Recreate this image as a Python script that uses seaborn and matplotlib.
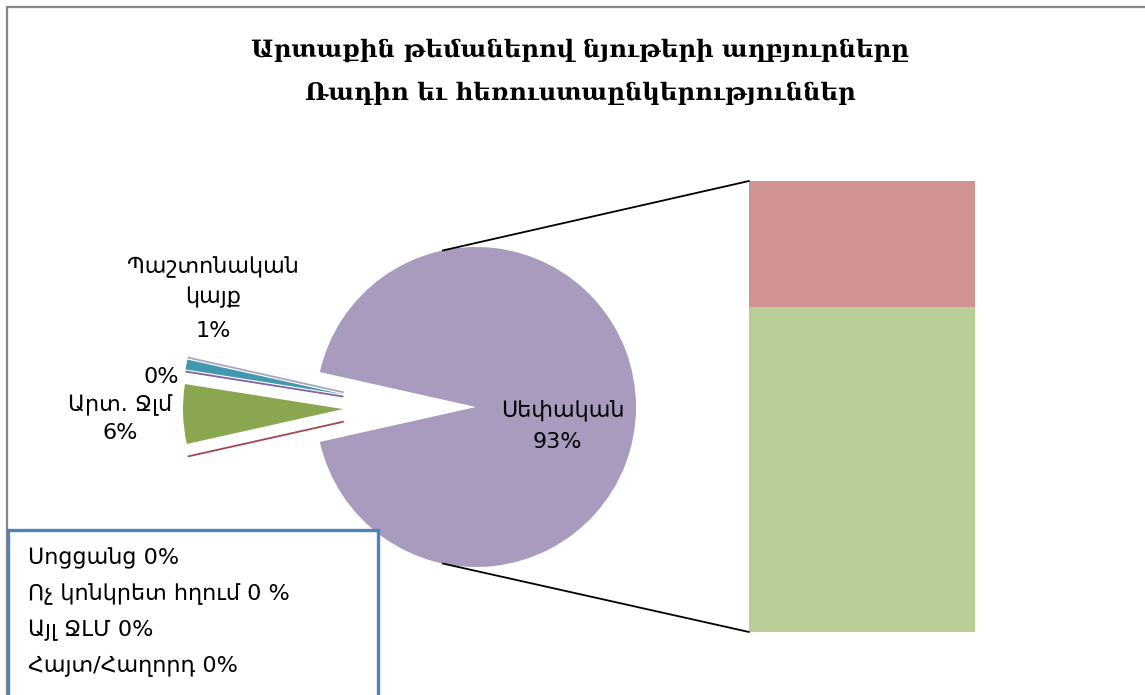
import matplotlib
matplotlib.use("Agg")
import matplotlib.pyplot as plt
from matplotlib.patches import Rectangle, ConnectionPatch
import numpy as np
import seaborn as sns

# --- data ---
title_lines = [
    "Արտաքին թեմաներով նյութերի աղբյուրները",
    "Ռադիո եւ հեռուստաընկերություններ",
]

# pie slices, counterclockwise starting at the lower edge of the gap
pie_names = ["Սեփական", "", "Պաշտոնական\nկայք", "", "Արտ. Ջլմ", ""]
pie_values = [93, 0, 1, 0, 6, 0]
pie_colors = ["#A99BBE", "#A7A5C2", "#4198AF", "#7E62A1", "#8AA64E", "#A3474E"]

# the big slice split into the bar (bottom to top)
bar_names = ["Սեփ.նյութ", "0 հղում"]
bar_values = [67, 26]
bar_colors = ["#B9CD96", "#D09392"]

box_labels = ["Սոցցանց 0%", "Ոչ կոնկրետ հղում 0 %", "Այլ ՋԼՄ 0%", "Հայտ/Հաղորդ 0%"]

W, H = 1145, 695

sns.set_theme(style="white")
plt.rcParams["font.family"] = ["DejaVu Sans"]
plt.rcParams["text.color"] = "black"

fig = plt.figure(figsize=(W / 100, H / 100), dpi=100)
ax = fig.add_axes([0, 0, 1, 1])

# --- pie ---
cx, cy, r = 476, H - 407, 160
gap = sum(pie_values[1:]) / sum(pie_values) * 360
start = 180 + gap / 2
wedges, _ = ax.pie(
    pie_values, colors=pie_colors, startangle=start, counterclock=True,
    center=(cx, cy), radius=r, wedgeprops=dict(linewidth=0),
)
# pull the small slices out to the left; Excel pushes them out at about
# half their angle off the horizontal, so do the same
pull = 133
for w, v, c in zip(wedges[1:], pie_values[1:], pie_colors[1:]):
    mid = (w.theta1 + w.theta2) / 2 % 360
    direction = np.radians(180 + (mid - 180) / 2)
    w.set_center((cx + pull * np.cos(direction), cy + pull * np.sin(direction)))
    if v == 0:
        # zero slices only show up as a thin line
        w.set_edgecolor(c)
        w.set_linewidth(1.3)

ax.set_xlim(0, W)
ax.set_ylim(0, H)
ax.set_aspect("equal")
ax.axis("off")

# --- bar of the "Սեփական" slice ---
bax = fig.add_axes([749 / W, 63 / H, 226 / W, 451 / H])
total = sum(bar_values)
sns.barplot(x=["a"], y=[total], color=bar_colors[1], width=1, saturation=1,
            errorbar=None, linewidth=0, ax=bax)
sns.barplot(x=["a"], y=[bar_values[0]], color=bar_colors[0], width=1, saturation=1,
            errorbar=None, linewidth=0, ax=bax)
bax.set_xlim(-0.5, 0.5)
bax.set_ylim(0, total)
bax.axis("off")

# connector lines from the pie edge to the bar corners
for ang, yb in [(102, total), (258, 0)]:
    p = (cx + r * np.cos(np.radians(ang)), cy + r * np.sin(np.radians(ang)))
    con = ConnectionPatch(xyA=p, coordsA=ax.transData, xyB=(-0.5, yb),
                          coordsB=bax.transData, color="black", lw=1.3)
    fig.add_artist(con)

# --- labels ---
fs = 16
ax.text(563, H - 410, pie_names[0], ha="center", va="center", fontsize=fs)
ax.text(557, H - 442, f"{pie_values[0]}%", ha="center", va="center", fontsize=fs)

ax.text(213, H - 282, pie_names[2], ha="center", va="center", fontsize=fs,
        linespacing=1.5)
ax.text(213, H - 331, f"{pie_values[2]}%", ha="center", va="center", fontsize=fs)
ax.text(161, H - 377, f"{pie_values[3]}%", ha="center", va="center", fontsize=fs)
ax.text(120, H - 405, pie_names[4], ha="center", va="center", fontsize=fs)
ax.text(120, H - 433, f"{pie_values[4]}%", ha="center", va="center", fontsize=fs)

ax.text(878, H - 228, bar_names[1], ha="center", va="center", fontsize=fs)
ax.text(878, H - 261, f"{bar_values[1]}%", ha="center", va="center", fontsize=fs)
ax.text(878, H - 478, bar_names[0], ha="center", va="center", fontsize=fs)
ax.text(878, H - 511, f"{bar_values[0]}%", ha="center", va="center", fontsize=fs)

# title
for i, line in enumerate(title_lines):
    ax.text(580, H - 50 - 43 * i, line, ha="center", va="center", fontsize=17.5,
            weight="bold", family=["DejaVu Serif", "DejaVu Sans"])

# text box with the remaining categories
fig.add_artist(Rectangle((8 / W, -0.1), 370 / W, (H - 530) / H + 0.1,
                         transform=fig.transFigure, fill=False,
                         edgecolor="#4F81BD", lw=2.4, zorder=5))
for i, lab in enumerate(box_labels):
    ax.text(28, H - 558 - 36 * i, lab, ha="left", va="center", fontsize=fs)

# outer chart border
fig.add_artist(Rectangle((7 / W, -0.1), 1.2, (H - 7) / H + 0.1,
                         transform=fig.transFigure, fill=False,
                         edgecolor="#878787", lw=1.6, zorder=4))

fig.savefig("out.png", dpi=100)
